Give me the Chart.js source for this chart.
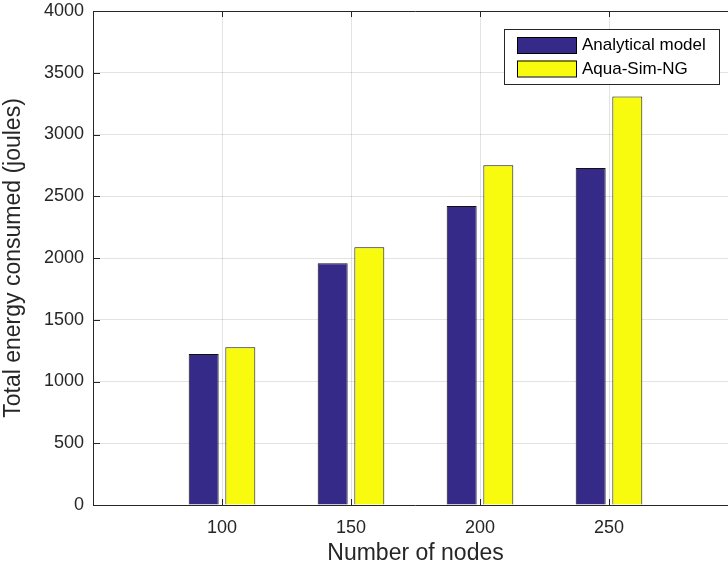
<!DOCTYPE html>
<html>
<head>
<meta charset="utf-8">
<script src="https://cdn.jsdelivr.net/npm/chart.js@4/dist/chart.umd.min.js"></script>
<style>
  html, body { margin:0; padding:0; background:#fff; overflow:hidden; }
  #wrap { width:745px; height:567px; }
</style>
</head>
<body>
<div id="wrap"><canvas id="chart" width="745" height="567"></canvas></div>
<script>
'use strict';

// ── data ─────────────────────────────────────────
const nodes      = [100, 150, 200, 250];
const analytical = [1222, 1957, 2421, 2729];
const aquaSim    = [1277, 2088, 2752, 3308];
const yTicks     = [0, 500, 1000, 1500, 2000, 2500, 3000, 3500, 4000];
const seriesNames = ['Analytical model', 'Aqua-Sim-NG'];

const AXIS = '#262626';
const FONT = '"Liberation Sans", Arial, Helvetica, sans-serif';

// ── box, inward ticks and legend (MATLAB look) ────
const boxPlugin = {
  id: 'matlabBox',
  afterDraw(chart) {
    const { ctx, chartArea: a, scales: { x, y } } = chart;
    ctx.save();
    ctx.strokeStyle = AXIS;
    ctx.lineWidth = 1;
    ctx.beginPath();
    ctx.rect(a.left + 0.5, a.top + 0.5, a.right - a.left - 1, a.bottom - a.top);
    ctx.stroke();
    ctx.beginPath();
    x.ticks.forEach(t => {
      const px = Math.round(x.getPixelForValue(t.value)) + 0.5;
      ctx.moveTo(px, a.bottom); ctx.lineTo(px, a.bottom - 6);
      ctx.moveTo(px, a.top); ctx.lineTo(px, a.top + 6);
    });
    y.ticks.forEach(t => {
      const py = Math.round(y.getPixelForValue(t.value)) + 0.5;
      ctx.moveTo(a.left, py); ctx.lineTo(a.left + 7, py);
    });
    ctx.stroke();

    // legend
    const lx = 504, ly = 29, lw = 215, lh = 55;
    ctx.fillStyle = '#fff';
    ctx.fillRect(lx, ly, lw, lh);
    ctx.strokeRect(lx + 0.5, ly + 0.5, lw, lh);
    chart.data.datasets.forEach((ds, i) => {
      const sy = 37 + i * 23.5;
      ctx.fillStyle = ds.backgroundColor;
      ctx.fillRect(517, sy, 59, 16);
      ctx.strokeStyle = '#000';
      ctx.strokeRect(517.5, sy + 0.5, 59, 16);
      ctx.fillStyle = '#000';
      ctx.font = '17px ' + FONT;
      ctx.textBaseline = 'middle';
      ctx.fillText(ds.label, 582, sy + 8.5);
    });
    ctx.restore();
  }
};

new Chart(document.getElementById('chart'), {
  type: 'bar',
  data: {
    datasets: [
      { label: seriesNames[0], data: nodes.map((n, i) => ({ x: n, y: analytical[i] })),
        backgroundColor: '#352A87', borderColor: '#111', borderWidth: 1 },
      { label: seriesNames[1], data: nodes.map((n, i) => ({ x: n, y: aquaSim[i] })),
        backgroundColor: '#F9FB0E', borderColor: '#111', borderWidth: 1 }
    ]
  },
  options: {
    responsive: false,
    animation: false,
    categoryPercentage: 0.568,
    barPercentage: 0.818,
    layout: { padding: { top: 11, right: 7, left: 0, bottom: 0 } },
    plugins: { legend: { display: false }, tooltip: { enabled: false } },
    scales: {
      x: {
        type: 'linear', min: 50, max: 300, offset: false,
        afterBuildTicks: s => { s.ticks = nodes.map(v => ({ value: v })); },
        afterFit: s => { s.height = 62; s.paddingLeft = 0; s.paddingRight = 0; },
        grid: { color: 'rgba(38,38,38,0.13)', drawTicks: false, offset: false },
        border: { display: false },
        ticks: { color: AXIS, font: { family: FONT, size: 18 }, padding: 12, maxRotation: 0,
                 callback: v => String(v) },
        title: { display: true, text: 'Number of nodes', color: AXIS,
                 font: { family: FONT, size: 23 }, padding: { top: 0, bottom: 0 } }
      },
      y: {
        min: 0, max: 4000,
        afterBuildTicks: s => { s.ticks = yTicks.map(v => ({ value: v })); },
        afterFit: s => { s.width = 93; s.paddingTop = 0; s.paddingBottom = 0; },
        grid: { color: 'rgba(38,38,38,0.13)', drawTicks: false },
        border: { display: false },
        ticks: { color: AXIS, font: { family: FONT, size: 18 }, padding: 9,
                 callback: v => String(v) },
        title: { display: true, text: 'Total energy consumed (joules)', color: AXIS,
                 font: { family: FONT, size: 23 }, padding: { top: 0, bottom: 9 } }
      }
    }
  },
  plugins: [boxPlugin]
});
</script>
</body>
</html>
